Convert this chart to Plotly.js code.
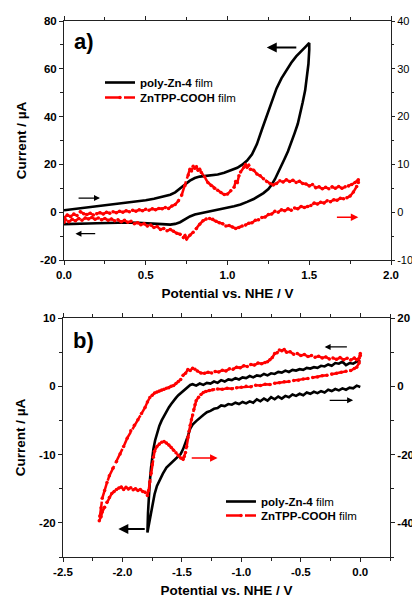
<!DOCTYPE html>
<html><head><meta charset="utf-8">
<script src="https://cdn.plot.ly/plotly-3.0.1.min.js"></script>
<style>html,body{margin:0;padding:0;background:#fff;}#chart{width:412px;height:598px;}</style>
</head><body><div id="chart"></div>
<script>
// ---------- Panel a) : oxidation scan (V vs NHE, current) ----------
// poly-Zn-4 film, left axis (µA)
const aBlack = [[0.00,0.8],[0.05,1.2],[0.10,1.6],[0.15,2.0],[0.20,2.3],[0.25,2.7],[0.30,3.1],[0.35,3.5],[0.40,4.0],[0.45,4.5],[0.50,5.0],[0.55,5.6],[0.60,6.3],[0.65,7.3],[0.68,8.3],[0.71,9.8],[0.74,11.6],[0.77,13.2],[0.80,14.3],[0.83,14.9],[0.86,15.1],[0.90,15.3],[0.94,15.8],[0.98,16.5],[1.02,17.4],[1.06,18.6],[1.09,19.9],[1.12,21.6],[1.15,24.2],[1.18,28.5],[1.21,34.5],[1.24,40.5],[1.27,46.5],[1.30,51.8],[1.33,56.0],[1.36,59.4],[1.39,62.5],[1.42,65.2],[1.45,67.5],[1.48,69.4],[1.50,70.8],
[1.50,68.0],[1.495,62.0],[1.485,56.0],[1.475,51.0],[1.46,46.0],[1.445,41.0],[1.43,37.0],[1.41,33.0],[1.39,29.0],[1.37,25.5],[1.35,22.5],[1.33,19.5],[1.31,16.5],[1.29,13.8],[1.27,11.5],[1.25,9.7],[1.22,8.0],[1.19,6.6],[1.16,5.5],[1.12,4.3],[1.08,3.2],[1.04,2.5],[1.00,1.9],[0.96,1.4],[0.92,0.9],[0.88,0.3],[0.84,-0.4],[0.80,-1.0],[0.77,-1.8],[0.74,-3.0],[0.71,-4.2],[0.68,-4.9],[0.65,-5.2],[0.60,-5.0],[0.55,-4.7],[0.50,-4.5],[0.45,-4.4],[0.40,-4.3],[0.35,-4.3],[0.30,-4.4],[0.25,-4.5],[0.20,-4.6],[0.15,-4.7],[0.10,-4.8],[0.05,-4.9],[0.00,-5.0]];
// ZnTPP-COOH film, right axis
const aRed = [[0.00,-1.2],[0.02,-0.6],[0.04,-0.9],[0.06,-0.4],[0.08,-0.7],[0.10,0.1],[0.12,-0.3],[0.14,-0.5],[0.16,-0.2],[0.18,-0.6],[0.20,-0.3],[0.22,-0.1],[0.24,-0.4],[0.26,0.0],[0.28,-0.2],[0.30,0.1],[0.32,-0.1],[0.34,0.2],[0.36,0.0],[0.38,0.3],[0.40,0.1],[0.42,0.4],[0.44,0.2],[0.46,0.5],[0.48,0.3],[0.50,0.6],[0.52,0.4],[0.54,0.7],[0.56,0.5],[0.58,0.8],[0.60,0.7],[0.62,1.0],[0.64,0.8],[0.66,1.3],[0.68,1.6],[0.70,2.4],[0.72,3.6],[0.74,5.6],[0.76,7.8],[0.77,9.0],[0.78,8.6],[0.79,9.6],[0.80,9.2],[0.81,9.5],[0.82,8.8],[0.83,9.0],[0.84,8.3],[0.86,7.4],[0.88,6.2],[0.90,5.6],[0.92,5.0],[0.94,4.6],[0.96,4.1],[0.98,3.7],[1.00,3.8],[1.02,4.5],[1.04,5.2],[1.05,6.4],[1.06,6.2],[1.07,7.6],[1.08,8.4],[1.10,9.4],[1.11,10.0],[1.12,9.4],[1.13,9.8],[1.14,9.0],[1.16,8.8],[1.18,8.0],[1.20,7.6],[1.22,7.0],[1.24,6.4],[1.26,6.0],[1.28,5.7],[1.30,6.0],[1.32,6.6],[1.34,6.3],[1.36,6.8],[1.38,6.4],[1.40,6.7],[1.42,6.2],[1.44,6.5],[1.46,6.0],[1.48,5.9],[1.50,5.5],[1.52,5.8],[1.54,5.1],[1.56,5.3],[1.58,4.9],[1.60,5.2],[1.62,4.9],[1.64,5.3],[1.66,5.0],[1.68,5.4],[1.70,5.0],[1.72,5.3],[1.74,5.5],[1.76,5.8],[1.78,6.2],[1.80,6.8],
[1.80,6.2],[1.79,5.4],[1.77,4.2],[1.75,3.4],[1.73,3.0],[1.71,2.8],[1.69,2.9],[1.67,2.5],[1.65,2.6],[1.63,2.2],[1.61,2.4],[1.59,1.9],[1.57,2.1],[1.55,1.7],[1.53,1.9],[1.51,1.4],[1.49,1.2],[1.47,1.0],[1.45,1.2],[1.43,0.7],[1.41,0.9],[1.39,0.4],[1.37,0.7],[1.35,0.3],[1.33,0.5],[1.31,0.0],[1.29,0.2],[1.27,-0.4],[1.25,-0.5],[1.23,-1.0],[1.21,-1.1],[1.19,-1.6],[1.17,-1.7],[1.15,-2.2],[1.13,-2.3],[1.11,-2.7],[1.09,-2.9],[1.07,-3.2],[1.05,-3.4],[1.03,-3.1],[1.01,-2.8],[0.99,-2.9],[0.97,-2.4],[0.95,-2.2],[0.93,-1.9],[0.91,-1.5],[0.89,-1.3],[0.87,-1.4],[0.85,-1.8],[0.83,-2.5],[0.81,-3.4],[0.79,-4.2],[0.77,-4.8],[0.75,-5.6],[0.74,-4.9],[0.73,-5.3],[0.71,-4.6],[0.69,-4.4],[0.67,-4.0],[0.65,-3.6],[0.63,-3.9],[0.61,-3.4],[0.59,-3.6],[0.57,-3.0],[0.55,-3.2],[0.53,-2.7],[0.51,-2.9],[0.49,-2.4],[0.47,-2.6],[0.45,-2.2],[0.43,-2.4],[0.41,-1.9],[0.39,-2.1],[0.37,-1.7],[0.35,-2.0],[0.33,-1.6],[0.31,-1.8],[0.29,-1.4],[0.27,-1.7],[0.25,-1.3],[0.23,-1.6],[0.21,-1.2],[0.19,-1.5],[0.17,-1.1],[0.15,-1.4],[0.13,-1.2],[0.11,-1.7],[0.09,-1.3],[0.07,-1.8],[0.05,-1.5],[0.03,-2.0],[0.01,-1.6],[0.00,-2.1]];

// ---------- Panel b) : reduction scan ----------
const bBlack = [[0.00,-0.1],[-0.03,0.1],[-0.06,-0.3],[-0.09,-0.2],[-0.12,-0.5],[-0.15,-0.3],[-0.18,-0.6],[-0.21,-0.4],[-0.24,-0.7],[-0.27,-0.5],[-0.30,-0.9],[-0.33,-0.7],[-0.36,-1.0],[-0.39,-0.8],[-0.42,-1.1],[-0.45,-0.9],[-0.48,-1.3],[-0.51,-1.1],[-0.54,-1.4],[-0.57,-1.2],[-0.60,-1.6],[-0.63,-1.4],[-0.66,-1.8],[-0.69,-1.5],[-0.72,-1.9],[-0.75,-1.6],[-0.78,-2.1],[-0.81,-1.8],[-0.84,-2.2],[-0.87,-1.9],[-0.90,-2.4],[-0.93,-2.2],[-0.96,-2.5],[-0.99,-2.3],[-1.02,-2.6],[-1.05,-2.4],[-1.08,-2.7],[-1.11,-2.6],[-1.14,-2.9],[-1.17,-2.8],[-1.20,-3.2],[-1.23,-3.3],[-1.26,-3.6],[-1.29,-3.8],[-1.32,-4.2],[-1.35,-4.6],[-1.38,-5.1],[-1.41,-5.6],[-1.43,-6.2],[-1.45,-7.3],[-1.47,-8.3],[-1.49,-9.2],[-1.51,-9.9],[-1.54,-10.4],[-1.57,-10.8],[-1.60,-11.3],[-1.63,-11.9],[-1.66,-12.8],[-1.69,-13.8],[-1.71,-14.6],[-1.73,-15.8],[-1.75,-17.6],[-1.77,-19.4],[-1.785,-21.0],[-1.79,-21.4],
[-1.785,-18.5],[-1.78,-16.2],[-1.77,-14.0],[-1.76,-12.0],[-1.75,-10.4],[-1.74,-9.2],[-1.725,-7.9],[-1.71,-6.9],[-1.69,-5.8],[-1.67,-5.0],[-1.65,-4.3],[-1.63,-3.7],[-1.61,-3.1],[-1.59,-2.6],[-1.57,-2.1],[-1.55,-1.7],[-1.53,-1.3],[-1.51,-1.0],[-1.49,-0.7],[-1.47,-0.4],[-1.45,-0.1],[-1.43,0.2],[-1.41,0.3],[-1.38,0.1],[-1.35,0.4],[-1.32,0.2],[-1.29,0.5],[-1.26,0.4],[-1.23,0.7],[-1.20,0.5],[-1.17,0.9],[-1.14,0.7],[-1.11,1.0],[-1.08,0.9],[-1.05,1.2],[-1.02,1.0],[-0.99,1.3],[-0.96,1.2],[-0.93,1.5],[-0.90,1.3],[-0.87,1.6],[-0.84,1.5],[-0.81,1.8],[-0.78,1.6],[-0.75,1.9],[-0.72,1.8],[-0.69,2.1],[-0.66,2.0],[-0.63,2.3],[-0.60,2.1],[-0.57,2.4],[-0.54,2.3],[-0.51,2.5],[-0.48,2.4],[-0.45,2.7],[-0.42,2.6],[-0.39,2.8],[-0.36,2.7],[-0.33,3.0],[-0.30,2.9],[-0.27,3.2],[-0.24,3.0],[-0.21,3.4],[-0.18,3.3],[-0.15,3.6],[-0.12,3.1],[-0.09,3.4],[-0.06,3.3],[-0.03,3.6],[0.00,3.8]];
const bRed = [[0.00,9.6],[-0.01,8.2],[-0.03,7.8],[-0.05,8.3],[-0.08,7.7],[-0.11,8.2],[-0.14,7.8],[-0.17,8.4],[-0.20,7.9],[-0.23,8.3],[-0.26,8.0],[-0.29,8.6],[-0.32,8.3],[-0.35,8.8],[-0.38,8.5],[-0.41,9.0],[-0.44,8.7],[-0.47,9.3],[-0.50,9.0],[-0.53,9.6],[-0.56,9.4],[-0.59,10.1],[-0.62,10.0],[-0.64,10.8],[-0.66,10.4],[-0.68,10.6],[-0.70,9.8],[-0.72,9.6],[-0.74,8.4],[-0.76,7.8],[-0.78,7.2],[-0.80,7.0],[-0.83,6.6],[-0.86,6.8],[-0.89,6.2],[-0.92,6.4],[-0.95,5.8],[-0.98,6.0],[-1.01,5.4],[-1.04,5.6],[-1.07,5.0],[-1.10,5.1],[-1.13,4.5],[-1.16,4.7],[-1.19,4.2],[-1.22,4.3],[-1.25,3.9],[-1.28,4.1],[-1.31,3.8],[-1.34,3.9],[-1.37,4.5],[-1.39,5.0],[-1.41,5.3],[-1.43,4.6],[-1.45,4.9],[-1.47,3.8],[-1.49,3.2],[-1.51,2.0],[-1.53,1.4],[-1.55,0.8],[-1.57,0.2],[-1.59,0.0],[-1.61,-0.4],[-1.63,-0.6],[-1.65,-0.9],[-1.67,-1.1],[-1.69,-1.4],[-1.71,-1.7],[-1.73,-2.0],[-1.75,-2.6],[-1.77,-3.3],[-1.79,-4.6],[-1.81,-6.2],[-1.84,-8.0],[-1.87,-9.8],[-1.90,-11.4],[-1.93,-13.0],[-1.96,-15.2],[-1.99,-17.6],[-2.02,-19.8],[-2.05,-22.0],[-2.08,-24.0],[-2.11,-26.2],[-2.13,-28.2],[-2.15,-30.5],[-2.17,-32.8],[-2.18,-35.6],[-2.19,-38.0],[-2.195,-39.4],
[-2.18,-38.2],[-2.17,-36.8],[-2.15,-35.4],[-2.13,-34.0],[-2.11,-32.6],[-2.09,-31.4],[-2.07,-30.8],[-2.05,-30.2],[-2.03,-29.8],[-2.01,-29.5],[-1.99,-30.2],[-1.97,-29.6],[-1.95,-30.1],[-1.93,-29.7],[-1.91,-30.3],[-1.89,-30.0],[-1.87,-30.5],[-1.85,-30.2],[-1.83,-30.8],[-1.81,-31.0],[-1.79,-32.0],[-1.78,-30.5],[-1.77,-28.0],[-1.76,-25.5],[-1.75,-23.0],[-1.74,-20.8],[-1.73,-19.0],[-1.71,-17.6],[-1.69,-16.9],[-1.67,-16.4],[-1.65,-16.2],[-1.63,-16.6],[-1.61,-17.2],[-1.59,-17.9],[-1.57,-18.7],[-1.55,-19.5],[-1.53,-20.3],[-1.51,-21.0],[-1.49,-21.4],[-1.48,-20.6],[-1.47,-19.4],[-1.46,-17.6],[-1.45,-15.0],[-1.44,-13.2],[-1.43,-11.4],[-1.42,-9.8],[-1.41,-8.4],[-1.40,-6.8],[-1.39,-5.4],[-1.38,-4.2],[-1.36,-3.2],[-1.34,-2.4],[-1.32,-1.8],[-1.30,-1.5],[-1.27,-1.2],[-1.24,-1.0],[-1.20,-0.8],[-1.16,-0.9],[-1.12,-0.6],[-1.08,-0.7],[-1.04,-0.4],[-1.00,-0.3],[-0.96,0.0],[-0.92,-0.1],[-0.88,0.3],[-0.84,0.2],[-0.80,0.6],[-0.76,0.5],[-0.72,0.9],[-0.68,1.0],[-0.64,1.3],[-0.60,1.4],[-0.56,1.7],[-0.52,1.8],[-0.48,2.1],[-0.44,2.3],[-0.40,2.6],[-0.36,2.7],[-0.32,3.1],[-0.28,3.2],[-0.24,3.6],[-0.20,3.8],[-0.16,4.1],[-0.12,4.4],[-0.08,4.6],[-0.05,5.2],[-0.03,5.6],[-0.01,6.8],[0.00,9.0]];

// tick values / labels (hyphen-minus as in the original figure)
const aXTicks = [0, 0.5, 1.0, 1.5, 2.0];
const aXLabels = ['0.0', '0.5', '1.0', '1.5', '2.0'];
const aYTicks = [-20, 0, 20, 40, 60, 80];
const aYLabels = ['-20', '0', '20', '40', '60', '80'];
const aY2Ticks = [-10, 0, 10, 20, 30, 40];
const aY2Labels = ['-10', '0', '10', '20', '30', '40'];
const bXTicks = [-2.5, -2.0, -1.5, -1.0, -0.5, 0.0];
const bXLabels = ['-2.5', '-2.0', '-1.5', '-1.0', '-0.5', '0.0'];
const bYTicks = [-20, -10, 0, 10];
const bYLabels = ['-20', '-10', '0', '10'];
const bY2Ticks = [-40, -20, 0, 20];
const bY2Labels = ['-40', '-20', '0', '20'];

// scan-direction arrows: [headX, headY, tailX, tailY, width] in left-axis units
const aArrowsBlack = [[1.24,68.9,1.43,68.9,2],[0.22,5.9,0.08,5.9,1.2],[0.07,-9.0,0.20,-9.0,1.2]];
const aArrowsRed = [[1.80,-2.1,1.66,-2.1,1.5]];
const bArrowsBlack = [[-0.30,5.76,-0.10,5.76,1.2],[-0.06,-2.05,-0.27,-2.05,1.2],[-2.035,-20.9,-1.80,-20.9,2]];
const bArrowsRed = [[-1.20,-10.5,-1.43,-10.5,1.5]];

const seriesNames = ['<b>poly-Zn-4</b> film', '<b>ZnTPP-COOH</b> film'];
const panelLabels = ['a)', 'b)'];
const xTitle = '<b>Potential vs. NHE / V</b>';
const yTitle = '<b>Current / µA</b>';

const FONT = 'Liberation Sans, Arial, sans-serif';
const col = (arr, i) => arr.map(p => p[i]);
const blackLine = {color: '#000', width: 2.6};
const redLine = {color: '#ff0000', width: 2.5, dash: '16px,3px'};
const redMarker = {color: '#ff0000', size: 3.5};

const traces = [
  {x: col(aBlack,0), y: col(aBlack,1), xaxis:'x', yaxis:'y', mode:'lines', line: blackLine, name: seriesNames[0], legend:'legend'},
  {x: col(aRed,0), y: col(aRed,1), xaxis:'x', yaxis:'y2', mode:'lines+markers', line: redLine, marker: redMarker, name: seriesNames[1], legend:'legend2'},
  {x: col(bBlack,0), y: col(bBlack,1), xaxis:'x2', yaxis:'y3', mode:'lines', line: blackLine, name: seriesNames[0], legend:'legend3'},
  {x: col(bRed,0), y: col(bRed,1), xaxis:'x2', yaxis:'y4', mode:'lines+markers', line: redLine, marker: redMarker, name: seriesNames[1], legend:'legend4'}
];

const tickFontB = {family: FONT, size: 11.5, color: '#000', weight: 'bold'};
const tickFontN = {family: FONT, size: 11, color: '#000'};
const titleFont = {family: FONT, size: 13.5, color: '#000'};
const axisBase = {showgrid:false, zeroline:false, showline:true, linecolor:'#222', linewidth:1, ticks:'outside', ticklen:4, tickwidth:1, tickcolor:'#222', fixedrange:true, tickmode:'array'};
const minorOf = (d, len) => ({dtick:d, tick0:0, ticks:'outside', ticklen:len, tickcolor:'#222'});

const annotations = [];
function addArrows(list, xr, yr, color) {
  list.forEach(a => annotations.push({x:a[0], y:a[1], ax:a[2], ay:a[3], xref:xr, yref:yr, axref:xr, ayref:yr, text:'', showarrow:true, arrowhead:2, arrowsize:1, arrowwidth:a[4], arrowcolor:color}));
}
addArrows(aArrowsBlack, 'x', 'y', '#000');
addArrows(aArrowsRed, 'x', 'y', '#ff0000');
addArrows(bArrowsBlack, 'x2', 'y3', '#000');
addArrows(bArrowsRed, 'x2', 'y3', '#ff0000');
annotations.push({xref:'paper', yref:'paper', x:72/412, y:1-42/598, xanchor:'left', yanchor:'middle', text:'<b>'+panelLabels[0]+'</b>', showarrow:false, font:{family:FONT, size:22, color:'#000'}});
annotations.push({xref:'paper', yref:'paper', x:71/412, y:1-340/598, xanchor:'left', yanchor:'middle', text:'<b>'+panelLabels[1]+'</b>', showarrow:false, font:{family:FONT, size:22, color:'#000'}});

const legendBase = {bgcolor:'rgba(0,0,0,0)', borderwidth:0, font:{family:FONT, size:11.5, color:'#000'}, itemwidth:30, xanchor:'left', yanchor:'top'};

const layout = {
  width:412, height:598, margin:{l:0, r:0, t:0, b:0}, paper_bgcolor:'#fff', plot_bgcolor:'#fff', showlegend:true,
  xaxis: Object.assign({}, axisBase, {domain:[64/412, 391/412], anchor:'y', range:[0,2], tickvals:aXTicks, ticktext:aXLabels, mirror:'ticks', minor:minorOf(0.25,3), tickfont:tickFontB, title:{text:xTitle, font:titleFont, standoff:8}}),
  yaxis: Object.assign({}, axisBase, {domain:[1-260/598, 1-21/598], anchor:'x', range:[-20,80], tickvals:aYTicks, ticktext:aYLabels, minor:minorOf(10,3), tickfont:tickFontB, title:{text:yTitle, font:titleFont, standoff:10}}),
  yaxis2: Object.assign({}, axisBase, {overlaying:'y', side:'right', anchor:'x', range:[-10,40], tickvals:aY2Ticks, ticktext:aY2Labels, ticklen:3, minor:minorOf(5,2), tickfont:tickFontN}),
  xaxis2: Object.assign({}, axisBase, {domain:[63/412, 390/412], anchor:'y3', range:[-2.5,0.25], tickvals:bXTicks, ticktext:bXLabels, mirror:'ticks', minor:minorOf(0.25,3), tickfont:tickFontB, title:{text:xTitle, font:titleFont, standoff:8}}),
  yaxis3: Object.assign({}, axisBase, {domain:[1-557/598, 1-318/598], anchor:'x2', range:[-25,10], tickvals:bYTicks, ticktext:bYLabels, minor:minorOf(5,3), tickfont:tickFontB, title:{text:yTitle, font:titleFont, standoff:10}}),
  yaxis4: Object.assign({}, axisBase, {overlaying:'y3', side:'right', anchor:'x2', range:[-50,20], tickvals:bY2Ticks, ticktext:bY2Labels, minor:minorOf(10,3), tickfont:tickFontB}),
  legend: Object.assign({}, legendBase, {x:100/412, y:1-68/598}),
  legend2: Object.assign({}, legendBase, {x:100/412, y:1-83/598}),
  legend3: Object.assign({}, legendBase, {x:221/412, y:1-487/598}),
  legend4: Object.assign({}, legendBase, {x:221/412, y:1-501/598}),
  annotations: annotations
};

Plotly.newPlot('chart', traces, layout, {staticPlot:true, displayModeBar:false});
</script>
</body></html>
